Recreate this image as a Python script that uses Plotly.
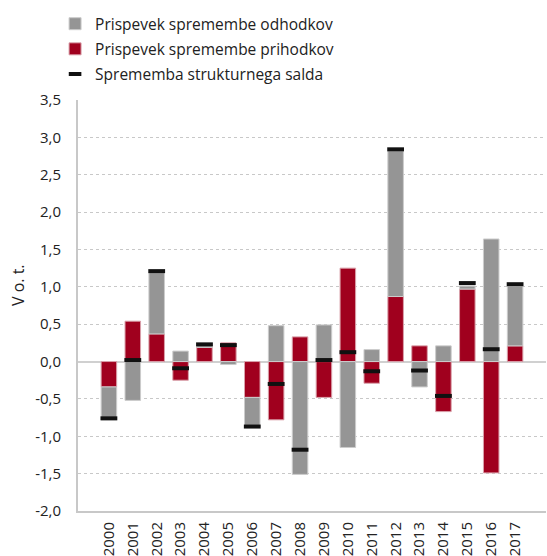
import plotly.graph_objects as go

# Data
years = [str(y) for y in range(2000, 2018)]
odhodki = [-0.44, -0.52, 0.82, 0.14, 0.02, -0.04, -0.40, 0.48, -1.51,
           0.49, -1.15, 0.16, 1.95, -0.34, 0.21, 0.04, 1.64, 0.80]
prihodki = [-0.34, 0.54, 0.37, -0.25, 0.19, 0.25, -0.48, -0.78, 0.33,
            -0.48, 1.25, -0.29, 0.87, 0.21, -0.67, 0.97, -1.49, 0.21]
saldo = [-0.76, 0.02, 1.21, -0.09, 0.23, 0.22, -0.87, -0.30, -1.18,
         0.02, 0.125, -0.13, 2.84, -0.12, -0.46, 1.05, 0.165, 1.035]
y_ticks = [-2.0, -1.5, -1.0, -0.5, 0.0, 0.5, 1.0, 1.5, 2.0, 2.5, 3.0, 3.5]

GREY = "#959595"
RED = "#a0001e"
FONT = "Open Sans"

fig = go.Figure()

# red stacks first (next to zero), grey on top of it
fig.add_trace(go.Bar(
    x=years, y=prihodki, name="Prispevek spremembe prihodkov",
    legendrank=2, legendgroup="b",
    marker=dict(color=RED, line=dict(color="#d9a0aa", width=1)),
))
fig.add_trace(go.Bar(
    x=years, y=odhodki, name="Prispevek spremembe odhodkov",
    legendrank=1, legendgroup="a",
    marker=dict(color=GREY, line=dict(color="#cccccc", width=1)),
))
fig.add_trace(go.Scatter(
    x=years, y=saldo, name="Sprememba strukturnega salda", mode="markers",
    showlegend=False,
    marker=dict(symbol="line-ew", size=12, color="#111111",
                line=dict(color="#111111", width=4)),
))
# legend-only entry with a smaller dash
fig.add_trace(go.Scatter(
    x=[None], y=[None], name="Sprememba strukturnega salda", mode="markers",
    legendrank=3, legendgroup="c",
    marker=dict(symbol="line-ew", size=9, color="#111111",
                line=dict(color="#111111", width=4)),
))

fig.add_annotation(
    text="V o. t.", xref="paper", yref="paper", x=-0.128, y=0.55,
    xanchor="center", yanchor="middle",
    textangle=-90, showarrow=False, font=dict(size=16, color="#222222"),
)

fig.update_layout(
    width=547, height=556,
    margin=dict(l=78, r=1, t=100, b=45),
    paper_bgcolor="white", plot_bgcolor="white",
    barmode="relative", bargap=0.35,
    font=dict(family=FONT, size=14, color="#222222"),
    showlegend=True,
    legend=dict(
        x=-0.049, y=1.226, xanchor="left", yanchor="top",
        font=dict(size=15.5, color="#222222"),
        itemwidth=30, tracegroupgap=2,
        bgcolor="rgba(0,0,0,0)",
    ),
    xaxis=dict(
        type="category", tickangle=-90, showgrid=False, automargin=False,
        showline=True, linecolor="#c8c8c8", linewidth=2,
        ticks="", tickfont=dict(size=15), ticklabelstandoff=3,
    ),
    yaxis=dict(
        range=[-2.0, 3.5], tickvals=y_ticks, automargin=False,
        ticktext=[f"{v:.1f}".replace(".", ",") for v in y_ticks],
        showgrid=True, gridcolor="#c8c8c8", griddash="dot", gridwidth=1,
        zeroline=True, zerolinecolor="#d0d0d0", zerolinewidth=2,
        showline=True, linecolor="#c8c8c8", linewidth=2,
        ticks="", tickfont=dict(size=15), ticklabelstandoff=12,
    ),
)

fig.write_html("out.html", config={"displayModeBar": False},
               post_script="document.body.style.margin='0';")
